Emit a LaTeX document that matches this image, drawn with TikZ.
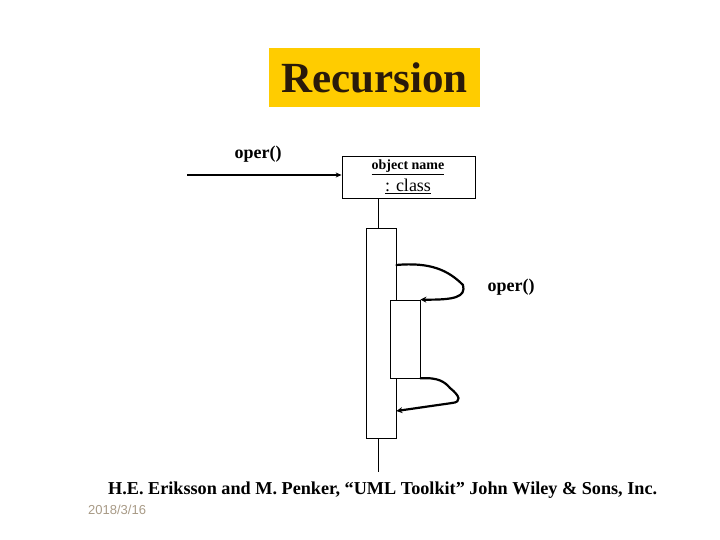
\documentclass[tikz,border=0pt]{standalone}
\usepackage{fontspec}
\setmainfont{Liberation Serif}
\newfontfamily\datefont{Liberation Sans}
\usetikzlibrary{arrows.meta}
\definecolor{titleyellow}{HTML}{FFCC00}
\definecolor{titletext}{HTML}{2A1A0A}
\definecolor{dategrey}{HTML}{A89A86}
\tikzset{
  px/.style={x=1pt,y=-1pt},
  box/.style={draw=black, line width=0.8pt, fill=white},
  msg/.style={line width=1.8pt, -{Stealth[length=6pt,width=5pt]}},
  hand/.style={line width=2.2pt, line cap=round, line join=round, -{Stealth[length=6pt,width=6pt]}},
  life/.style={line width=0.8pt}
}
\begin{document}
\begin{tikzpicture}[px]
\useasboundingbox (0,0) rectangle (720,540);
% title
\node[fill=titleyellow, minimum width=211pt, minimum height=59pt, inner sep=0pt,
      text=titletext, font=\fontsize{43}{43}\selectfont\bfseries] (title) at (374.5,77.5) {Recursion};
% object box
\node[box, minimum width=133pt, minimum height=42pt, inner sep=0pt] (obj) at (408.5,177) {};
\node[font=\fontsize{14}{14}\selectfont\bfseries, inner sep=0pt] (objname) at (408,167) {\underline{object name}};
\node[font=\fontsize{18}{18}\selectfont, inner sep=0pt] (cls) at (408,186) {\underline{: class}};
% incoming message
\coordinate (start) at (187,175);
\draw[msg] (start) -- (obj.west |- start);
\node[font=\fontsize{18}{18}\selectfont\bfseries, inner sep=0pt] (oper1) at (258,154) {oper()};
% lifeline and activations
\node[box, minimum width=30pt, minimum height=210pt, inner sep=0pt] (act) at (381,333) {};
\coordinate (lifeend) at (378,472);
\draw[life] (obj.south -| 378,0) -- (378,228);
\draw[life] (378,438) -- (lifeend);
\node[box, minimum width=30pt, minimum height=78pt, inner sep=0pt] (act2) at (405,339) {};
% recursive calls
\draw[hand] (act.east |- 0,265) .. controls (430,262) and (448,270) .. (463,285)
   .. controls (466,297) and (455,300) .. (act2.north east);
\draw[hand] (act2.south east) .. controls (438,377) and (445,382) .. (450,388)
   .. controls (460,396) and (462,402) .. (452,403)
   -- (act.east |- 0,411);
\node[font=\fontsize{18}{18}\selectfont\bfseries, inner sep=0pt] (oper2) at (511,287) {oper()};
% footer
\node[font=\fontsize{18.2}{18.2}\selectfont\bfseries, inner sep=0pt, anchor=west] (ref) at (108,490)
  {H.E. Eriksson and M. Penker, “UML Toolkit” John Wiley \& Sons, Inc.};
\node[font=\datefont\fontsize{13}{13}\selectfont, text=dategrey, inner sep=0pt, anchor=west] (date) at (88,510) {2018/3/16};
\end{tikzpicture}
\end{document}
